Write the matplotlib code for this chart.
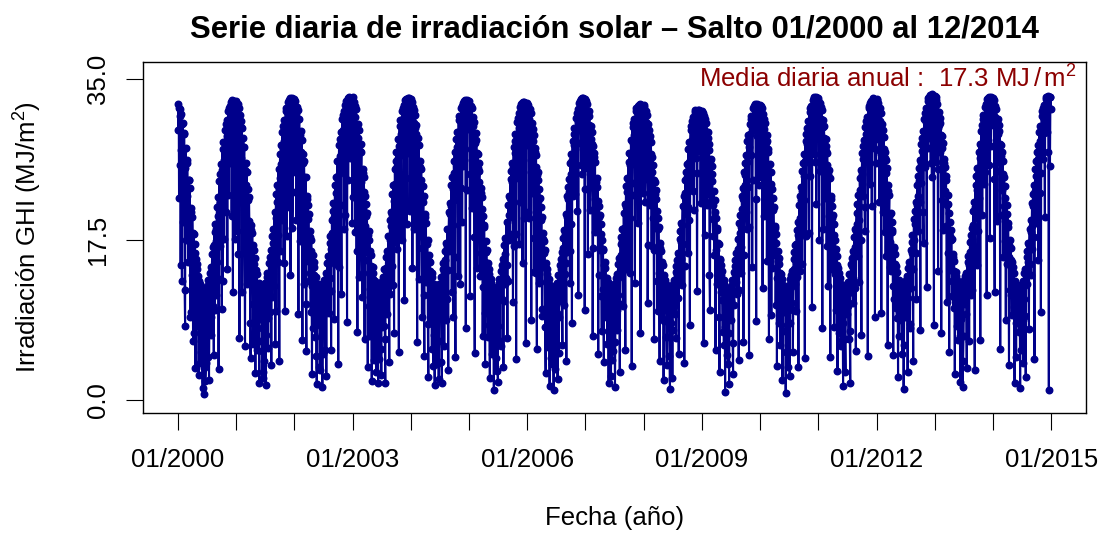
import numpy as np
import pandas as pd
import matplotlib
matplotlib.use("Agg")
import matplotlib.pyplot as plt

plt.rcParams['font.family'] = ['Liberation Sans', 'DejaVu Sans']
plt.rcParams['mathtext.fontset'] = 'custom'
plt.rcParams['mathtext.rm'] = 'Liberation Sans'
plt.rcParams['mathtext.it'] = 'Liberation Sans:italic'

# daily GHI (MJ/m2), two samples every 5 days
# (days 1, 6, 11, ... and days 3, 8, 13, ...), 73 values per year
ghi_2000 = [32.3, 31.8, 25.6, 31.7, 31.2, 13.0, 30.2, 27.4, 29.0, 8.1, 27.5, 22.3,
            25.8, 15.1, 24.0, 23.1, 9.6, 20.9, 20.0, 6.4, 18.1, 17.0, 3.5, 15.4,
            14.8, 10.3, 2.7, 13.0, 12.6, 5.2, 12.0, 1.3, 11.9, 0.6, 12.1, 4.0,
            12.4, 8.6, 13.1, 2.2, 13.9, 14.5, 7.1, 15.9, 16.7, 4.9, 18.3, 19.2,
            11.4, 21.0, 22.1, 3.4, 23.9, 24.7, 25.7, 9.9, 27.4, 28.1, 17.6, 29.5,
            30.1, 30.5, 14.3, 31.5, 31.8, 32.1, 27.0, 32.5, 32.7, 11.8, 32.6, 32.4, 32.3]
ghi_2001 = [32.6, 18.4, 32.3, 31.9, 6.8, 31.1, 30.4, 29.7, 21.5, 28.6, 27.6, 5.9,
            25.9, 24.9, 12.7, 23.0, 22.1, 16.8, 4.6, 19.1, 18.2, 10.5, 16.4, 15.5,
            2.9, 14.2, 13.7, 7.8, 12.8, 1.9, 12.5, 9.3, 12.3, 2.4, 3.1, 12.6,
            12.8, 1.6, 13.4, 13.9, 5.7, 14.9, 15.6, 16.4, 3.8, 17.9, 18.7, 12.4,
            20.5, 6.1, 22.5, 23.4, 15.0, 25.2, 4.3, 26.8, 27.8, 19.6, 29.2, 29.9,
            30.5, 9.7, 31.5, 31.9, 24.0, 32.5, 32.7, 32.9, 13.6, 32.8, 32.9, 22.7, 32.7]
ghi_2002 = [32.8, 32.6, 27.9, 32.0, 31.6, 9.4, 30.6, 23.8, 29.3, 28.4, 6.5, 26.8,
            26.1, 18.2, 24.3, 5.3, 22.3, 21.3, 20.3, 13.9, 18.4, 17.5, 2.8, 15.8,
            15.1, 14.5, 6.9, 13.4, 1.7, 12.7, 12.6, 12.4, 3.3, 12.3, 7.2, 1.4,
            12.7, 13.1, 10.8, 13.8, 2.6, 14.9, 15.7, 9.5, 17.1, 17.9, 5.4, 19.6,
            20.6, 21.5, 8.8, 23.4, 24.3, 18.9, 26.1, 3.9, 27.8, 28.5, 29.2, 11.6,
            30.6, 31.1, 31.5, 20.2, 32.2, 32.6, 8.5, 32.9, 33.0, 32.9, 26.4, 32.9, 32.8]
ghi_2003 = [33.0, 22.1, 32.5, 32.1, 31.7, 16.3, 7.4, 30.1, 29.4, 19.7, 27.9, 27.1,
            11.2, 25.2, 24.3, 6.7, 22.3, 21.4, 20.4, 3.6, 18.4, 17.5, 12.1, 15.8,
            2.1, 14.5, 13.9, 4.4, 13.0, 12.7, 9.8, 12.4, 1.9, 12.3, 12.4, 5.6,
            2.7, 13.0, 13.4, 8.1, 14.3, 1.8, 15.6, 16.3, 12.2, 17.9, 4.1, 19.6,
            20.5, 14.6, 22.5, 23.4, 7.3, 25.2, 26.1, 27.0, 16.5, 28.5, 5.2, 29.9,
            30.5, 23.4, 31.5, 31.9, 32.2, 10.9, 32.7, 32.8, 19.2, 32.9, 32.8, 32.9, 28.3]
ghi_2004 = [32.8, 32.5, 14.4, 32.0, 31.6, 31.1, 24.9, 30.0, 6.3, 28.6, 27.8, 17.9,
            26.1, 25.2, 9.1, 23.3, 22.3, 4.8, 20.3, 19.3, 15.1, 17.5, 2.5, 15.8,
            15.1, 8.6, 13.9, 13.4, 3.7, 12.7, 1.6, 12.4, 12.3, 6.3, 12.3, 2.3,
            12.7, 9.9, 13.4, 1.9, 14.3, 14.9, 5.9, 16.3, 17.1, 11.0, 18.7, 3.3,
            20.5, 21.5, 17.2, 23.4, 24.3, 9.0, 26.1, 27.0, 4.7, 28.5, 29.2, 21.8,
            30.5, 31.0, 12.6, 31.8, 32.1, 32.4, 25.5, 32.6, 32.7, 7.9, 32.7, 32.6, 32.5]
ghi_2005 = [32.6, 11.3, 32.1, 31.8, 26.2, 30.9, 30.3, 5.1, 29.1, 28.4, 20.6, 26.8,
            25.9, 25.0, 13.5, 23.1, 22.1, 7.0, 20.1, 19.1, 3.9, 17.3, 16.4, 11.7,
            14.9, 14.3, 2.4, 13.2, 12.8, 8.4, 12.3, 1.1, 12.1, 12.1, 4.6, 12.3,
            2.0, 12.8, 13.2, 6.4, 14.1, 14.7, 15.4, 3.6, 16.9, 17.7, 13.3, 19.4,
            6.8, 21.3, 22.3, 18.1, 24.1, 25.0, 25.9, 10.7, 27.6, 28.3, 29.0, 4.5,
            30.3, 30.8, 31.3, 17.0, 32.0, 32.3, 32.4, 14.9, 32.5, 32.5, 32.4, 6.2, 32.3]
ghi_2006 = [32.4, 32.2, 19.8, 31.7, 31.3, 8.7, 30.2, 29.6, 28.9, 14.0, 27.5, 26.7,
            5.6, 24.9, 24.0, 23.0, 12.9, 21.1, 20.0, 9.2, 18.2, 17.3, 16.4, 2.9,
            14.9, 14.3, 5.8, 13.2, 1.5, 12.5, 12.3, 7.7, 12.1, 1.1, 12.2, 3.4,
            12.5, 12.8, 2.3, 13.6, 9.1, 14.7, 15.4, 16.1, 6.0, 17.7, 18.5, 13.7,
            20.3, 4.2, 22.3, 23.2, 24.1, 16.2, 25.9, 26.8, 8.4, 28.3, 29.0, 29.7,
            22.5, 30.8, 31.3, 31.7, 11.4, 32.4, 32.6, 32.8, 32.9, 24.6, 32.9, 32.8, 9.8]
ghi_2007 = [32.8, 32.6, 32.3, 15.9, 31.5, 31.0, 23.2, 29.9, 29.2, 7.0, 27.7, 26.9,
            26.0, 18.7, 24.2, 23.2, 5.0, 21.2, 20.2, 19.2, 11.3, 17.4, 16.5, 4.1,
            15.0, 14.4, 9.0, 13.3, 12.9, 1.8, 12.4, 12.3, 2.6, 12.2, 5.3, 12.4,
            12.6, 1.4, 13.3, 13.7, 7.6, 14.8, 15.5, 3.1, 17.0, 17.8, 18.6, 10.2,
            20.4, 21.4, 5.5, 23.3, 24.2, 14.4, 26.0, 26.9, 19.9, 28.4, 3.7, 29.8,
            30.2, 30.6, 12.8, 31.5, 31.8, 25.7, 32.1, 32.2, 32.3, 7.3, 32.2, 32.1, 32.0]
ghi_2008 = [32.2, 32.0, 24.1, 31.5, 31.1, 10.6, 30.1, 29.5, 28.8, 28.1, 16.8, 26.5,
            25.6, 6.6, 23.8, 22.9, 21.9, 13.0, 19.9, 18.9, 4.3, 17.1, 16.2, 8.9,
            14.7, 2.2, 13.6, 13.1, 12.7, 3.8, 12.2, 12.1, 6.9, 1.2, 12.1, 12.2,
            2.4, 12.7, 13.1, 9.4, 14.0, 14.6, 15.3, 16.0, 5.0, 17.6, 18.4, 19.3,
            12.5, 21.2, 22.2, 4.0, 24.0, 24.9, 25.7, 16.0, 27.4, 28.1, 8.2, 29.4,
            29.9, 30.4, 30.9, 20.7, 31.4, 31.6, 31.5, 11.9, 31.6, 31.6, 27.2, 31.5, 31.4]
ghi_2009 = [31.5, 31.3, 6.2, 31.0, 30.6, 30.2, 21.3, 29.2, 28.6, 27.9, 9.8, 26.3,
            25.5, 24.7, 17.9, 22.8, 21.8, 5.4, 19.8, 18.8, 14.2, 17.0, 3.0, 15.4,
            14.7, 14.1, 7.4, 13.1, 12.7, 0.9, 12.2, 4.9, 12.0, 12.0, 1.7, 12.2,
            12.4, 8.7, 13.1, 2.8, 14.0, 14.6, 15.3, 16.0, 11.6, 17.6, 4.4, 19.3,
            20.2, 13.9, 22.2, 23.1, 6.3, 24.9, 25.8, 26.7, 18.6, 28.2, 28.9, 4.9,
            30.1, 30.6, 31.0, 14.5, 31.8, 32.1, 32.2, 32.3, 8.6, 32.3, 32.2, 23.5, 32.1]
ghi_2010 = [32.2, 32.1, 31.9, 12.2, 31.2, 30.7, 30.2, 20.4, 28.9, 28.2, 27.4, 6.7,
            25.7, 24.9, 9.3, 23.0, 22.0, 21.0, 15.8, 19.0, 18.1, 3.7, 16.3, 15.5,
            14.8, 6.0, 13.7, 13.2, 2.2, 12.5, 12.3, 12.2, 0.8, 12.1, 8.2, 12.3,
            12.5, 2.6, 13.2, 13.6, 14.1, 5.2, 15.4, 16.1, 16.9, 9.7, 18.5, 19.4,
            3.6, 21.3, 22.3, 23.2, 14.8, 25.0, 25.9, 26.8, 4.6, 28.3, 29.0, 29.7,
            30.4, 18.2, 31.4, 31.8, 32.1, 10.1, 32.7, 32.9, 33.0, 26.0, 33.0, 32.9, 32.7]
ghi_2011 = [32.9, 17.5, 32.4, 32.0, 31.6, 7.9, 30.5, 29.9, 25.3, 28.5, 27.7, 26.9,
            12.4, 25.1, 24.2, 4.7, 22.2, 21.2, 20.2, 19.2, 8.0, 17.4, 16.5, 15.7,
            3.2, 14.4, 13.8, 13.3, 5.9, 12.6, 12.4, 1.5, 12.2, 12.2, 3.0, 12.4,
            12.6, 12.9, 6.7, 13.7, 1.9, 14.8, 15.5, 16.2, 10.6, 17.8, 18.6, 5.3,
            20.4, 21.4, 22.4, 12.9, 24.2, 25.1, 7.1, 26.9, 27.7, 28.4, 21.0, 29.8,
            30.4, 30.9, 4.8, 31.8, 32.1, 32.4, 32.6, 21.2, 32.8, 32.9, 32.8, 9.1, 32.7]
ghi_2012 = [32.8, 32.7, 32.4, 27.3, 31.8, 31.3, 9.5, 30.1, 29.4, 28.7, 18.3, 27.1,
            26.2, 25.3, 6.0, 23.4, 22.4, 14.5, 20.4, 19.4, 18.5, 4.9, 16.7, 15.9,
            10.0, 14.6, 14.0, 2.5, 13.1, 12.8, 12.6, 12.5, 5.0, 12.4, 1.2, 12.6,
            12.8, 13.1, 13.5, 3.1, 14.4, 15.0, 8.3, 16.4, 17.2, 18.0, 4.2, 19.7,
            20.6, 21.6, 11.0, 23.5, 24.4, 25.3, 26.2, 7.6, 27.9, 28.6, 29.3, 17.1,
            30.7, 31.3, 31.8, 12.3, 32.6, 32.9, 33.1, 33.3, 25.8, 33.4, 33.3, 33.2, 8.2]
ghi_2013 = [33.2, 33.0, 32.7, 32.3, 14.1, 31.4, 30.8, 30.2, 7.3, 28.8, 28.0, 22.6,
            26.3, 25.4, 24.4, 10.7, 22.4, 21.4, 5.2, 19.4, 18.5, 17.6, 13.0, 15.9,
            15.2, 2.8, 14.0, 13.5, 13.1, 6.5, 12.6, 12.5, 2.0, 12.4, 12.5, 1.4,
            7.0, 13.1, 13.5, 13.9, 3.5, 15.0, 15.7, 6.4, 17.2, 18.0, 18.8, 12.0,
            20.6, 21.6, 3.3, 23.5, 24.4, 25.3, 18.4, 27.1, 27.9, 6.5, 29.3, 30.0,
            30.6, 31.1, 23.6, 32.0, 32.3, 11.5, 32.8, 32.9, 33.0, 17.7, 33.0, 32.9, 32.8]
ghi_2014 = [32.9, 32.7, 11.8, 32.1, 31.7, 25.0, 30.6, 30.0, 29.3, 5.6, 27.8, 27.0,
            26.1, 15.6, 24.3, 23.3, 8.7, 21.3, 20.3, 19.3, 3.8, 17.5, 16.6, 11.4,
            15.1, 14.5, 13.9, 1.9, 13.0, 4.7, 12.5, 9.1, 12.3, 12.3, 1.3, 12.5,
            12.7, 13.0, 4.0, 13.8, 14.3, 2.5, 15.6, 16.3, 17.1, 7.7, 18.7, 19.6,
            13.6, 21.5, 22.5, 23.4, 4.5, 25.2, 26.1, 27.0, 27.8, 15.3, 29.2, 29.9,
            9.6, 31.0, 31.5, 31.9, 32.2, 20.0, 32.8, 33.0, 33.1, 33.2, 1.1, 33.1, 33.0]

ghi_2000b = [29.5, 22.0, 31.0, 14.7, 27.3, 30.1, 19.4, 29.1, 12.0, 25.3, 17.5, 26.2,
             20.6, 24.0, 17.8, 9.1, 20.5, 13.6, 18.2, 11.7, 7.3, 16.0, 10.9, 14.3,
             8.1, 13.5, 11.2, 4.0, 9.3, 11.7, 6.2, 10.4, 3.5, 9.0, 2.1, 11.2,
             10.3, 4.7, 11.8, 7.9, 12.6, 9.0, 14.1, 10.2, 13.5, 16.9, 9.8, 17.3,
             18.7, 15.0, 20.1, 13.2, 21.5, 16.8, 22.4, 25.1, 13.0, 26.2, 23.0, 28.1,
             20.5, 28.8, 29.6, 22.4, 30.0, 25.9, 31.2, 20.1, 30.3, 28.7, 31.5, 17.6, 30.9]
ghi_2001b = [30.8, 27.5, 15.9, 29.6, 24.4, 29.8, 26.4, 11.8, 27.6, 23.0, 16.2, 25.1,
             23.5, 19.6, 21.8, 14.0, 19.5, 8.4, 18.5, 14.6, 16.9, 6.1, 14.8, 12.2,
             13.9, 5.5, 11.6, 10.3, 6.4, 11.5, 8.8, 11.4, 5.3, 10.7, 11.0, 4.2,
             11.3, 7.1, 9.8, 12.5, 8.9, 13.1, 9.6, 14.8, 15.7, 11.2, 17.1, 15.3,
             17.9, 19.8, 9.7, 21.6, 18.0, 23.0, 24.2, 16.3, 25.7, 22.7, 27.4, 14.9,
             28.3, 25.8, 29.1, 17.9, 30.4, 28.6, 21.0, 31.5, 26.4, 31.6, 18.8, 31.9, 30.2]
ghi_2002b = [24.9, 31.2, 19.6, 30.5, 26.0, 28.2, 28.9, 17.3, 27.0, 21.4, 25.8, 12.6,
             24.3, 21.0, 10.5, 21.9, 15.2, 19.7, 13.0, 17.8, 9.6, 16.2, 12.4, 7.9,
             13.6, 9.9, 12.4, 4.8, 11.4, 8.3, 11.1, 3.6, 10.2, 8.1, 11.5, 5.0,
             9.2, 12.1, 5.4, 12.0, 10.3, 13.4, 12.2, 15.1, 13.3, 16.5, 11.9, 18.2,
             15.5, 20.0, 21.0, 14.8, 22.6, 20.4, 19.8, 24.7, 14.5, 26.6, 21.3, 27.9,
             25.2, 29.5, 18.7, 30.6, 26.8, 30.9, 31.4, 24.0, 31.8, 29.9, 32.0, 30.6, 19.3]
ghi_2003b = [31.4, 28.0, 30.9, 18.3, 29.4, 26.5, 28.6, 22.9, 13.4, 27.2, 23.8, 17.0,
             24.8, 13.9, 22.7, 19.0, 16.1, 20.1, 15.3, 18.0, 10.2, 16.3, 7.0, 14.6,
             11.3, 13.2, 8.5, 12.4, 9.6, 3.0, 11.5, 6.8, 10.9, 4.5, 11.2, 9.1,
             11.6, 8.0, 12.2, 10.1, 6.6, 13.6, 14.4, 9.4, 15.6, 13.8, 17.5, 11.6,
             19.0, 20.2, 12.5, 21.7, 19.3, 23.6, 17.2, 25.5, 26.4, 20.8, 27.7, 24.1,
             29.0, 17.4, 30.0, 26.7, 30.9, 29.5, 24.2, 31.7, 31.9, 26.9, 31.8, 20.6, 31.1]
ghi_2004b = [27.1, 30.7, 23.3, 30.2, 18.6, 29.7, 29.0, 20.3, 27.8, 25.6, 13.2, 25.4,
             22.1, 24.0, 16.6, 21.6, 11.5, 20.0, 17.4, 12.9, 17.0, 8.3, 15.2, 13.4,
             14.1, 11.8, 5.6, 12.3, 10.5, 7.1, 10.9, 9.6, 11.4, 3.9, 11.0, 6.4,
             9.0, 12.0, 4.1, 12.8, 10.6, 14.0, 11.3, 15.3, 8.7, 16.8, 14.2, 18.4,
             16.3, 20.3, 21.2, 11.8, 23.0, 19.1, 24.8, 15.6, 26.1, 23.9, 27.6, 13.5,
             28.5, 29.3, 23.1, 30.5, 19.4, 30.7, 31.2, 27.4, 31.6, 31.8, 22.9, 31.4, 29.6]
ghi_2005b = [30.6, 24.7, 30.3, 20.9, 29.9, 27.0, 17.8, 28.0, 24.6, 26.9, 14.4, 25.3,
             23.8, 18.4, 22.6, 16.0, 20.8, 12.3, 18.9, 15.0, 9.5, 16.1, 13.2, 6.9,
             13.7, 8.2, 12.1, 11.0, 5.0, 11.6, 10.0, 7.2, 11.3, 9.4, 3.2, 11.4,
             8.1, 11.7, 12.4, 5.9, 13.1, 11.0, 14.5, 10.8, 15.9, 12.6, 17.4, 14.7,
             13.0, 20.2, 17.4, 22.0, 20.0, 23.8, 21.5, 25.4, 16.8, 26.9, 24.2, 18.1,
             28.6, 25.0, 29.7, 30.1, 21.6, 30.6, 30.9, 26.2, 31.2, 19.8, 31.3, 30.0, 27.8]
ghi_2006b = [30.3, 20.5, 30.6, 28.1, 24.9, 29.0, 22.6, 28.3, 17.7, 27.0, 25.4, 13.9,
             24.5, 21.7, 12.8, 22.0, 17.8, 19.6, 9.9, 17.6, 14.5, 16.0, 8.0, 14.4,
             13.7, 10.6, 12.3, 8.6, 11.8, 4.6, 11.0, 3.9, 10.7, 8.9, 11.3, 6.0,
             11.6, 9.5, 12.1, 5.1, 12.9, 10.8, 14.3, 12.0, 15.8, 16.6, 10.4, 18.1,
             14.9, 20.0, 16.1, 21.9, 22.7, 12.8, 24.6, 19.2, 26.2, 22.3, 27.8, 24.9,
             27.4, 29.3, 20.6, 30.3, 28.0, 30.9, 31.4, 25.6, 31.7, 31.5, 29.1, 31.7, 23.0]
ghi_2007b = [31.5, 25.3, 30.9, 27.4, 30.0, 20.7, 28.5, 24.7, 27.9, 16.6, 26.5, 21.9,
             18.3, 23.8, 20.1, 21.7, 13.6, 20.0, 16.4, 18.1, 7.5, 16.4, 12.1, 14.7,
             12.4, 13.3, 10.4, 6.1, 11.7, 9.2, 11.3, 8.0, 11.0, 4.4, 10.6, 7.8,
             10.2, 6.3, 12.2, 9.8, 13.3, 11.5, 13.9, 10.5, 15.8, 14.0, 17.3, 16.0,
             18.8, 14.3, 21.0, 18.6, 22.7, 19.5, 23.8, 25.6, 13.8, 26.8, 22.4, 28.0,
             28.9, 23.7, 29.9, 27.8, 30.5, 19.3, 30.8, 28.2, 31.1, 25.4, 31.2, 30.7, 22.6]
ghi_2008b = [30.9, 21.6, 30.3, 28.5, 29.7, 16.9, 28.7, 25.9, 21.3, 26.8, 24.9, 19.8,
             24.0, 16.4, 22.5, 18.8, 20.6, 9.7, 18.6, 13.8, 16.6, 10.3, 15.1, 12.7,
             13.5, 8.6, 12.7, 9.8, 6.9, 11.6, 11.2, 9.9, 4.8, 11.0, 8.4, 11.1,
             7.6, 11.9, 10.2, 12.6, 6.8, 13.6, 14.1, 11.1, 15.8, 13.0, 17.2, 15.4,
             19.1, 17.0, 21.0, 14.6, 22.6, 20.3, 24.3, 21.0, 26.0, 19.6, 27.4, 25.0,
             28.4, 22.8, 29.6, 27.1, 30.2, 26.4, 30.5, 24.8, 30.7, 29.3, 30.6, 21.5, 30.2]
ghi_2009b = [30.2, 26.4, 29.6, 18.0, 29.2, 24.8, 28.0, 22.5, 27.3, 13.6, 26.1, 21.7,
             23.9, 19.7, 21.3, 15.8, 20.5, 16.4, 18.5, 12.6, 17.1, 9.1, 15.3, 11.8,
             13.6, 10.9, 12.5, 6.0, 11.9, 8.0, 11.1, 9.3, 3.9, 11.0, 7.3, 11.2,
             10.8, 12.1, 6.2, 12.8, 10.4, 13.7, 12.9, 15.1, 14.9, 16.5, 12.0, 18.2,
             18.9, 16.7, 20.8, 21.9, 15.8, 23.5, 24.5, 20.5, 26.0, 23.2, 27.6, 18.9,
             29.0, 26.7, 30.1, 24.0, 30.7, 29.4, 31.0, 21.9, 31.2, 28.8, 31.3, 30.5, 27.6]
ghi_2010b = [31.0, 24.3, 30.5, 28.2, 20.1, 29.6, 27.2, 28.0, 15.2, 27.0, 23.1, 25.0,
             19.4, 23.6, 20.8, 14.4, 20.7, 17.2, 18.8, 10.4, 17.1, 13.3, 15.2, 8.4,
             13.8, 12.6, 9.7, 12.1, 7.5, 11.7, 9.6, 11.2, 5.2, 11.1, 10.0, 3.6,
             11.7, 8.4, 12.3, 10.6, 13.1, 9.8, 14.3, 12.7, 15.8, 17.0, 13.4, 18.0,
             17.7, 19.9, 14.1, 21.8, 22.8, 18.3, 24.4, 21.8, 26.1, 17.9, 27.9, 26.0,
             28.8, 29.4, 24.4, 30.4, 27.3, 30.8, 31.3, 26.8, 31.8, 31.9, 21.4, 31.7, 30.5]
ghi_2011b = [31.7, 28.6, 25.0, 30.7, 27.9, 29.8, 18.6, 28.6, 22.0, 27.2, 16.8, 25.6,
             24.6, 20.1, 18.9, 21.9, 14.3, 19.9, 15.5, 18.0, 13.7, 16.3, 9.8, 14.7,
             12.0, 13.4, 7.3, 12.4, 10.7, 6.5, 11.3, 8.4, 11.1, 6.7, 11.2, 9.4,
             11.5, 10.2, 12.4, 7.5, 13.2, 11.8, 14.6, 13.3, 15.9, 16.7, 12.2, 18.4,
             19.2, 15.7, 21.2, 19.6, 22.9, 17.5, 24.6, 22.2, 26.3, 27.1, 18.4, 28.2,
             29.0, 26.1, 30.0, 30.4, 28.4, 23.6, 31.3, 29.0, 31.6, 27.5, 31.7, 31.5, 25.8]
ghi_2012b = [31.5, 28.5, 31.0, 21.6, 30.4, 26.8, 25.6, 28.8, 20.5, 27.4, 26.4, 15.7,
             24.8, 18.9, 22.8, 20.1, 17.2, 20.3, 14.1, 18.3, 12.4, 16.6, 11.0, 14.8,
             13.8, 8.9, 12.7, 11.5, 7.0, 11.9, 8.7, 11.5, 9.3, 11.4, 6.0, 11.3,
             11.6, 9.0, 12.5, 11.1, 13.3, 7.9, 14.6, 12.2, 16.0, 14.3, 17.5, 16.1,
             19.2, 16.0, 21.3, 22.2, 18.4, 23.9, 21.6, 25.8, 23.7, 27.2, 20.5, 28.3,
             29.2, 25.4, 30.3, 30.8, 27.5, 31.5, 28.6, 31.9, 32.0, 24.3, 32.1, 29.9, 31.6]
ghi_2013b = [31.8, 26.0, 31.3, 29.7, 25.2, 30.0, 27.1, 28.9, 21.8, 27.5, 18.5, 25.8,
             22.8, 24.0, 19.0, 21.3, 16.0, 20.4, 17.9, 14.2, 17.4, 11.3, 15.6, 10.0,
             14.1, 11.0, 12.9, 8.1, 12.2, 9.7, 11.4, 7.0, 11.2, 8.8, 11.3, 4.3,
             11.8, 10.5, 12.6, 9.4, 13.5, 12.1, 14.7, 13.8, 16.1, 11.5, 17.6, 16.4,
             19.1, 15.3, 21.1, 19.8, 22.9, 14.7, 24.7, 22.0, 26.4, 24.4, 27.9, 20.2,
             29.1, 27.5, 30.1, 24.9, 30.8, 28.8, 31.3, 25.6, 31.7, 31.9, 27.7, 31.6, 30.0]
ghi_2014b = [31.5, 24.1, 30.9, 28.4, 30.2, 19.5, 29.0, 26.0, 27.9, 20.2, 26.6, 22.9,
             24.7, 21.2, 17.3, 22.0, 19.0, 14.8, 18.9, 15.6, 16.9, 12.0, 15.3, 9.3,
             13.9, 11.9, 10.1, 12.2, 8.4, 11.5, 10.4, 11.3, 7.4, 11.2, 9.0, 5.4,
             11.7, 8.7, 12.4, 11.0, 9.2, 13.8, 12.7, 15.0, 13.6, 16.9, 14.8, 18.3,
             19.0, 16.5, 21.2, 17.8, 22.8, 20.1, 24.4, 19.3, 26.3, 27.1, 22.6, 28.3,
             24.8, 29.6, 26.3, 30.6, 29.1, 31.3, 31.4, 29.2, 31.9, 27.0, 31.9, 25.5, 31.7]

years = list(range(2000, 2015))
series_a = [ghi_2000, ghi_2001, ghi_2002, ghi_2003, ghi_2004, ghi_2005, ghi_2006, ghi_2007,
            ghi_2008, ghi_2009, ghi_2010, ghi_2011, ghi_2012, ghi_2013, ghi_2014]
series_b = [ghi_2000b, ghi_2001b, ghi_2002b, ghi_2003b, ghi_2004b, ghi_2005b, ghi_2006b,
            ghi_2007b, ghi_2008b, ghi_2009b, ghi_2010b, ghi_2011b, ghi_2012b, ghi_2013b,
            ghi_2014b]
media_anual = 17.3

dates = []
values = []
for yr, va, vb in zip(years, series_a, series_b):
    da = pd.Timestamp(yr, 1, 1) + pd.to_timedelta(np.arange(len(va)) * 5, unit='D')
    db = pd.Timestamp(yr, 1, 3) + pd.to_timedelta(np.arange(len(vb)) * 5, unit='D')
    for a, b, x, y in zip(da, db, va, vb):
        dates.extend([a, b])
        values.extend([x, y])

fig = plt.figure(figsize=(11.09, 5.36), dpi=100)
ax = fig.add_axes([143 / 1109, 1 - 413 / 536, (1086 - 143) / 1109, (413 - 61.7) / 536])

ax.plot(dates, values, color='#00008B', lw=1.5, marker='o', ms=4.7, mec='#00008B', mfc='#00008B')

start = pd.Timestamp('2000-01-01')
end = pd.Timestamp('2014-12-31')
ext = (end - start) * 0.04
ax.set_xlim(start - ext, end + ext)
ax.set_ylim(-1.42, 36.9)

tick_years = list(range(2000, 2016))
ax.set_xticks([pd.Timestamp(y, 1, 1) for y in tick_years])
ax.set_xticklabels(['01/%d' % y if (y - 2000) % 3 == 0 else '' for y in tick_years])
ax.set_yticks([0, 17.5, 35])
ax.set_yticklabels(['0.0', '17.5', '35.0'], rotation=90, va='center')

ax.tick_params(axis='both', direction='out', length=12, width=0.8, labelsize=18.5, colors='black')
ax.tick_params(axis='x', pad=13)
ax.tick_params(axis='y', pad=12)
for s in ax.spines.values():
    s.set_linewidth(1.0)

ax.text(0.99, 0.99, 'Media diaria anual :  %.1f MJ$\\,$/$\\,$m$^{2}$' % media_anual,
        transform=ax.transAxes, ha='right', va='top', color='#8B0000', fontsize=18.5)

fig.text(614.5 / 1109, 1 - 30 / 536, 'Serie diaria de irradiación solar – Salto 01/2000 al 12/2014',
         ha='center', va='center', fontsize=22.3, fontweight='bold')
fig.text(614.5 / 1109, 1 - 518 / 536, 'Fecha (año)', ha='center', va='center', fontsize=18.5)
fig.text(28 / 1109, 1 - 237 / 536, 'Irradiación GHI (MJ/m$^{2}$)', ha='center', va='center',
         rotation=90, fontsize=18.5)

fig.savefig('out.png', dpi=100)
